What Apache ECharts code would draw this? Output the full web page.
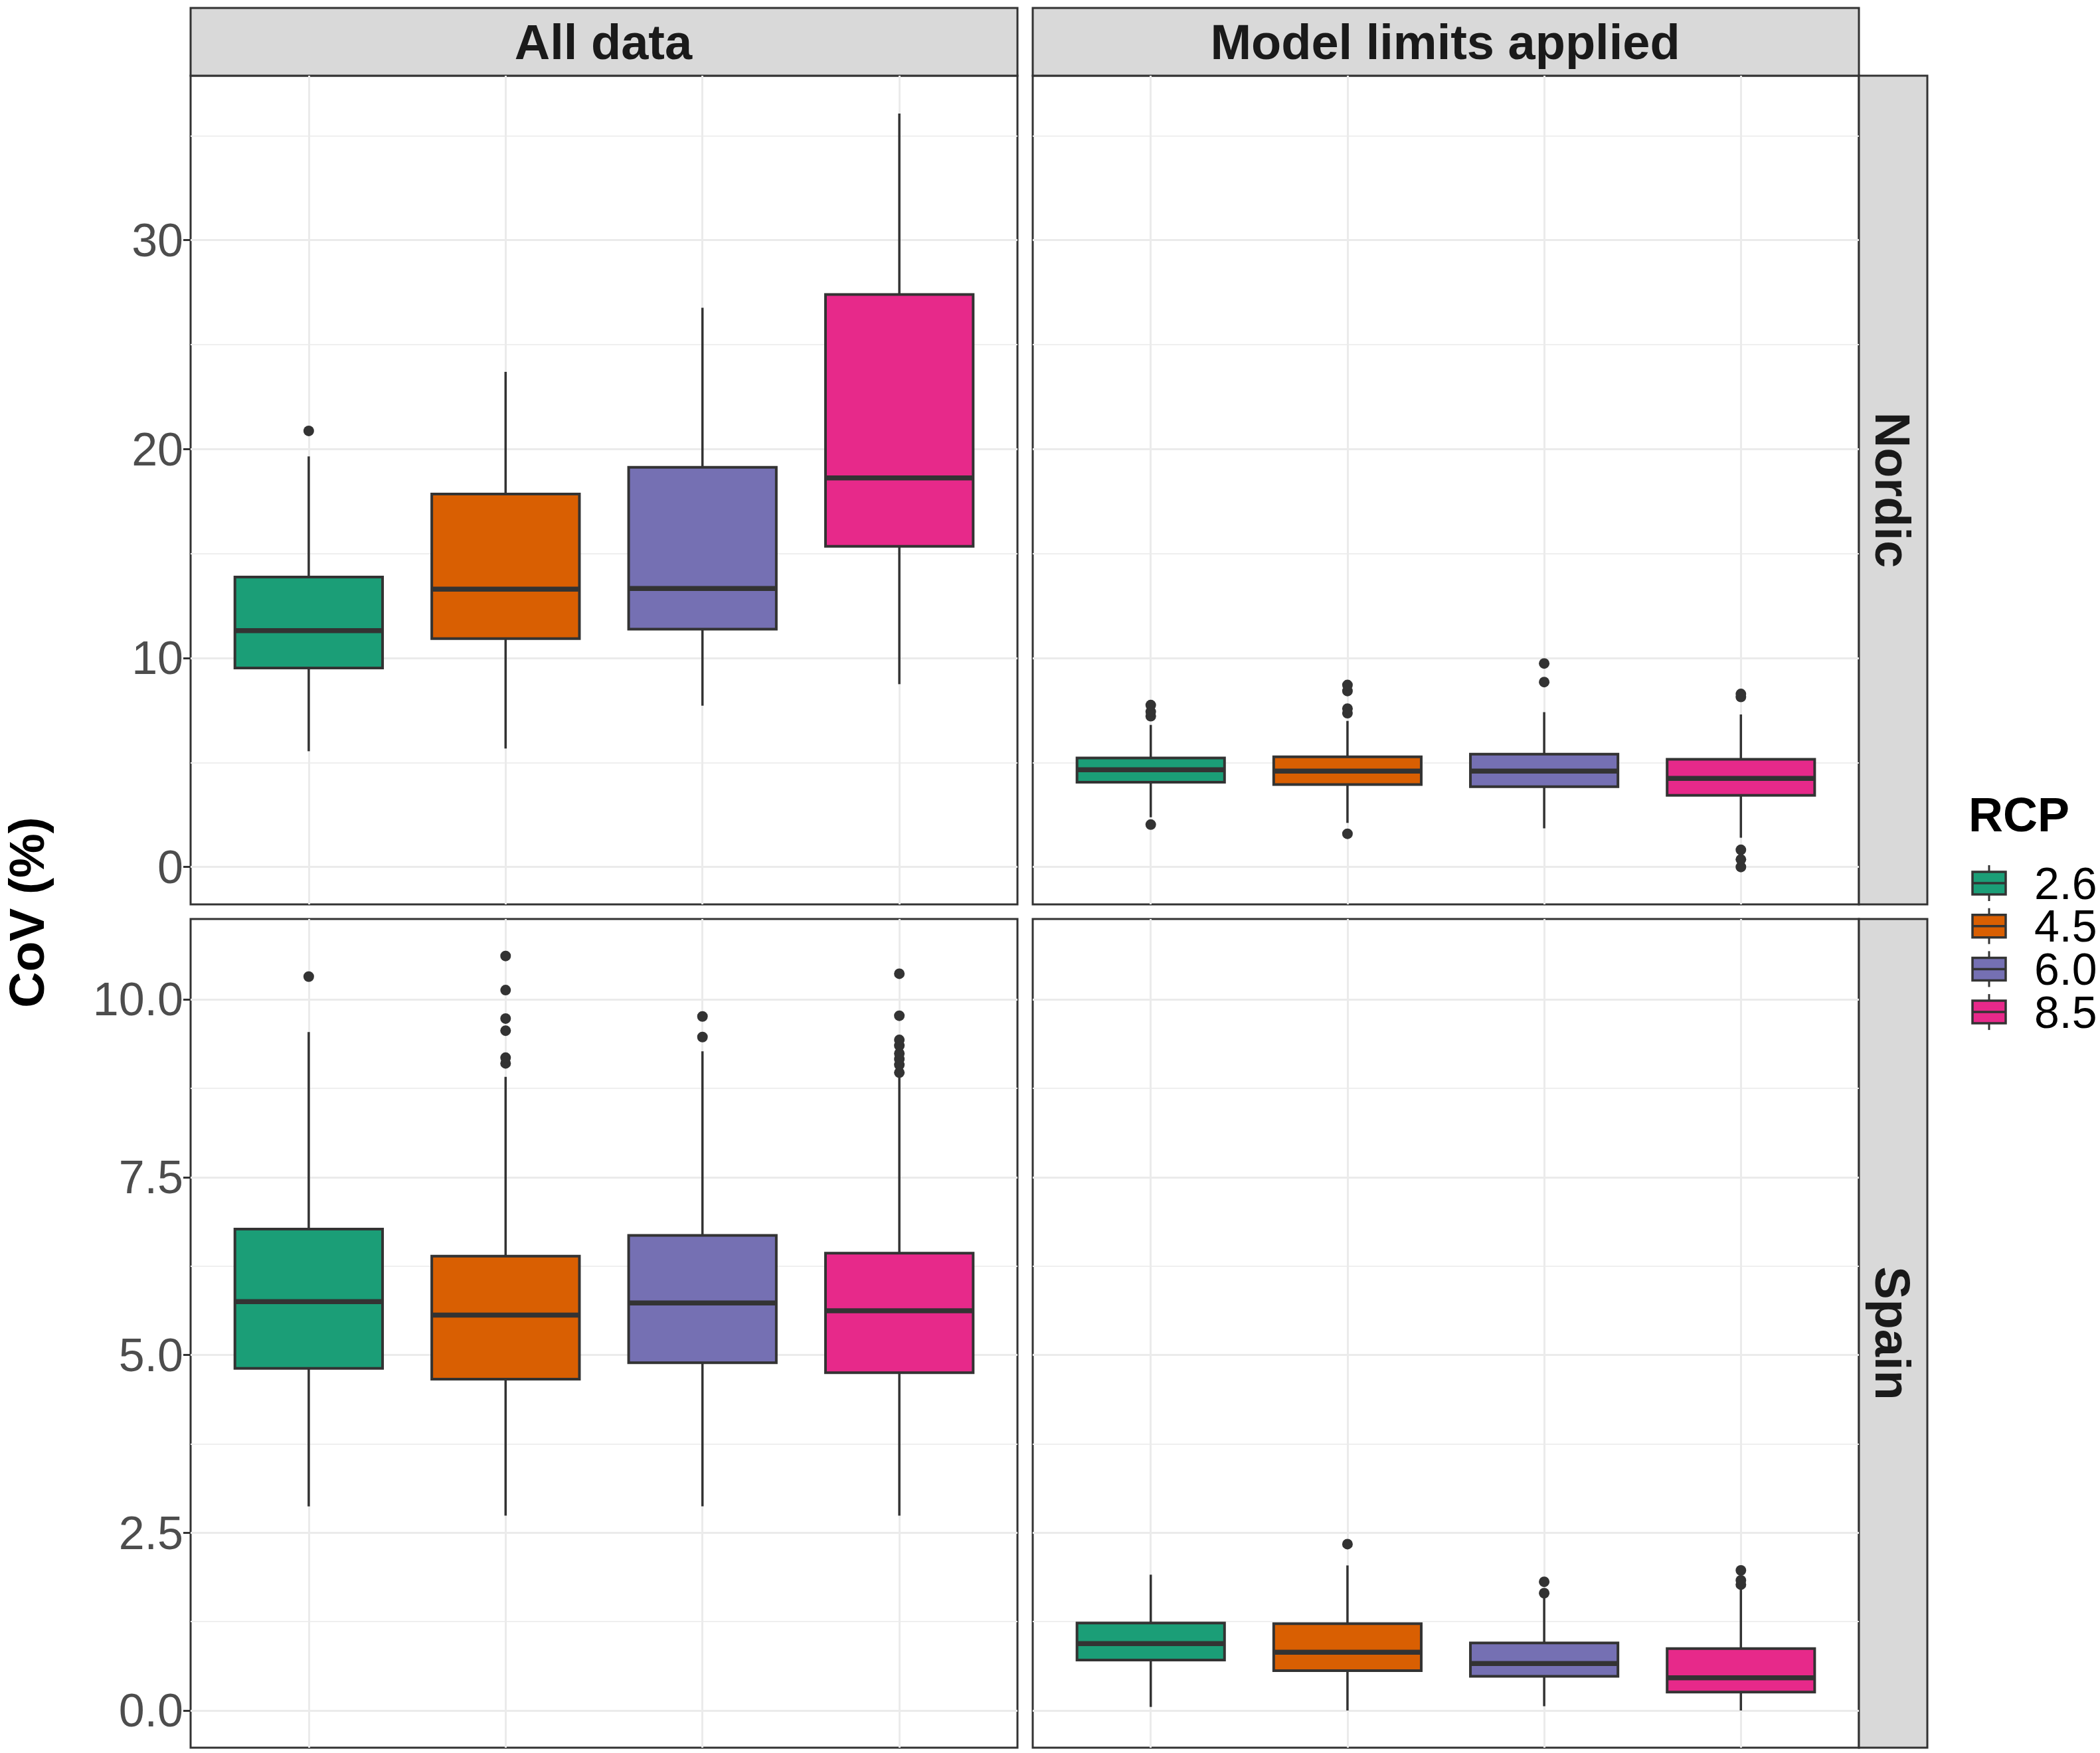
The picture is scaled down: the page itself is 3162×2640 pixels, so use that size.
<!DOCTYPE html>
<html>
<head>
<meta charset="utf-8">
<script src="https://cdn.jsdelivr.net/npm/echarts@6/dist/echarts.min.js"></script>
<style>
  html, body { margin: 0; padding: 0; background: #fff; }
  #main { width: 3162px; height: 2640px; }
</style>
</head>
<body>
<div id="main"></div>
<script>
var rcpLabels = ['2.6', '4.5', '6.0', '8.5'];
var rcpColors = ['#1b9e77', '#d95f02', '#7570b3', '#e7298a'];
var rcpPositions = [1, 2, 3, 4];

// low whisker, q1, median, q3, high whisker
var nordicAllBoxes = [
    [5.54, 9.52, 11.31, 13.88, 19.65],
    [5.67, 10.93, 13.3, 17.85, 23.7],
    [7.72, 11.38, 13.33, 19.13, 26.76],
    [8.75, 15.35, 18.62, 27.4, 36.06]
];
var nordicAllOutliers = [[20.87], [], [], []];

var nordicLimitBoxes = [
    [2.38, 4.06, 4.65, 5.22, 6.8],
    [2.11, 3.95, 4.59, 5.27, 6.99],
    [1.85, 3.84, 4.59, 5.4, 7.41],
    [1.4, 3.43, 4.24, 5.15, 7.3]
];
var nordicLimitOutliers = [
    [2.03, 7.22, 7.43, 7.75],
    [1.59, 7.36, 7.58, 8.42, 8.71],
    [8.85, 9.74],
    [0.0, 0.36, 0.82, 8.14, 8.28]
];

var spainAllBoxes = [
    [2.87, 4.81, 5.75, 6.77, 9.54],
    [2.74, 4.66, 5.56, 6.39, 8.91],
    [2.87, 4.89, 5.73, 6.68, 9.27],
    [2.74, 4.75, 5.62, 6.43, 8.9]
];
var spainAllOutliers = [
    [10.32],
    [9.1, 9.18, 9.56, 9.73, 10.13, 10.61],
    [9.47, 9.76],
    [8.97, 9.08, 9.16, 9.24, 9.35, 9.43, 9.77, 10.36]
];

var spainLimitBoxes = [
    [0.05, 0.71, 0.94, 1.23, 1.91],
    [0.0, 0.56, 0.82, 1.22, 2.04],
    [0.06, 0.48, 0.66, 0.95, 1.58],
    [0.0, 0.26, 0.46, 0.87, 1.71]
];
var spainLimitOutliers = [
    [],
    [2.34],
    [1.65, 1.81],
    [1.77, 1.83, 1.97]
];

var nordicTicks = [0, 10, 20, 30];
var nordicMinor = [5, 15, 25, 35];
var spainTicks = [0, 2.5, 5, 7.5, 10];
var spainMinor = [1.25, 3.75, 6.25, 8.75];

var columnTitles = ['All data', 'Model limits applied'];
var rowTitles = ['Nordic', 'Spain'];

var FONT = '"Liberation Sans", Arial, sans-serif';
var DARK = '#333333';
var GRID = '#ebebeb';
var STRIP = '#d9d9d9';

var colX = [[287, 1532], [1555, 2799]];
var rowY = [[114, 1362], [1384, 2632]];
var rowRange = [[-1.79, 37.87], [-0.523, 11.13]];
var rowTicks = [nordicTicks, spainTicks];
var rowMinor = [nordicMinor, spainMinor];

var panels = [
    { col: 0, row: 0, boxes: nordicAllBoxes, outliers: nordicAllOutliers },
    { col: 1, row: 0, boxes: nordicLimitBoxes, outliers: nordicLimitOutliers },
    { col: 0, row: 1, boxes: spainAllBoxes, outliers: spainAllOutliers },
    { col: 1, row: 1, boxes: spainLimitBoxes, outliers: spainLimitOutliers }
];

function renderBox(params, api) {
    var x = api.value(0);
    var low = api.coord([x, api.value(1)]);
    var q1 = api.coord([x, api.value(2)]);
    var med = api.coord([x, api.value(3)]);
    var q3 = api.coord([x, api.value(4)]);
    var high = api.coord([x, api.value(5)]);
    var w = api.size([0.75, 0])[0];
    var color = rcpColors[api.value(6)];
    var line = { stroke: DARK, lineWidth: 3.5 };
    return {
        type: 'group',
        children: [
            { type: 'line', shape: { x1: low[0], y1: low[1], x2: q1[0], y2: q1[1] }, style: line },
            { type: 'line', shape: { x1: q3[0], y1: q3[1], x2: high[0], y2: high[1] }, style: line },
            {
                type: 'rect',
                shape: { x: q1[0] - w / 2, y: q3[1], width: w, height: q1[1] - q3[1] },
                style: { fill: color, stroke: DARK, lineWidth: 4 }
            },
            {
                type: 'line',
                shape: { x1: med[0] - w / 2, y1: med[1], x2: med[0] + w / 2, y2: med[1] },
                style: { stroke: DARK, lineWidth: 7.5 }
            }
        ]
    };
}

var grids = [], xAxes = [], yAxes = [], series = [], graphics = [];

panels.forEach(function (p, i) {
    var ticks = rowTicks[p.row];
    var left = p.col === 0;
    grids.push({
        left: colX[p.col][0],
        width: colX[p.col][1] - colX[p.col][0],
        top: rowY[p.row][0],
        height: rowY[p.row][1] - rowY[p.row][0],
        show: true,
        backgroundColor: '#fff',
        borderColor: DARK,
        borderWidth: 3,
        containLabel: false
    });
    xAxes.push({
        type: 'value',
        gridIndex: i,
        min: 0.4,
        max: 4.6,
        axisLine: { show: false },
        axisLabel: { show: false },
        axisTick: { show: false, customValues: rcpPositions },
        splitLine: { show: true, lineStyle: { color: GRID, width: 3 } }
    });
    // main axis: major grid lines, ticks and labels
    yAxes.push({
        type: 'value',
        gridIndex: i,
        min: rowRange[p.row][0],
        max: rowRange[p.row][1],
        axisLine: { show: false },
        axisTick: { show: left, length: 11, customValues: ticks, lineStyle: { color: DARK, width: 3 } },
        axisLabel: {
            show: left,
            customValues: ticks,
            margin: 11,
            formatter: function (v) { return '{tick|' + (p.row === 1 ? v.toFixed(1) : String(v)) + '}'; },
            rich: {
                tick: {
                    color: '#4d4d4d',
                    fontSize: 70,
                    fontFamily: FONT,
                    padding: [10, 0, 0, 0]
                }
            }
        },
        splitLine: { show: true, lineStyle: { color: GRID, width: 3 } }
    });
    // second axis on the same scale, only for the minor grid lines
    yAxes.push({
        type: 'value',
        gridIndex: i,
        min: rowRange[p.row][0],
        max: rowRange[p.row][1],
        axisLine: { show: false },
        axisTick: { show: false, customValues: rowMinor[p.row] },
        axisLabel: { show: false },
        splitLine: { show: true, lineStyle: { color: '#efefef', width: 2 } }
    });

    var boxData = p.boxes.map(function (b, k) {
        return [rcpPositions[k], b[0], b[1], b[2], b[3], b[4], k];
    });
    series.push({
        type: 'custom',
        xAxisIndex: i,
        yAxisIndex: i * 2,
        renderItem: renderBox,
        encode: { x: 0, y: [1, 2, 3, 4, 5] },
        data: boxData,
        clip: false,
        z: 3
    });

    var pts = [];
    p.outliers.forEach(function (list, k) {
        list.forEach(function (v) { pts.push([rcpPositions[k], v]); });
    });
    series.push({
        type: 'scatter',
        xAxisIndex: i,
        yAxisIndex: i * 2,
        symbolSize: 16,
        itemStyle: { color: DARK, opacity: 1 },
        data: pts,
        z: 4
    });
});

// strips
columnTitles.forEach(function (t, c) {
    graphics.push({
        type: 'rect',
        shape: { x: colX[c][0], y: 12, width: colX[c][1] - colX[c][0], height: 102 },
        style: { fill: STRIP, stroke: DARK, lineWidth: 3 }
    });
    graphics.push({
        type: 'text',
        x: (colX[c][0] + colX[c][1]) / 2 - 1,
        y: 69,
        style: {
            text: t, fill: '#1a1a1a', font: 'bold 74px ' + FONT,
            textAlign: 'center', textVerticalAlign: 'middle'
        }
    });
});
rowTitles.forEach(function (t, r) {
    graphics.push({
        type: 'rect',
        shape: { x: 2799, y: rowY[r][0], width: 103, height: rowY[r][1] - rowY[r][0] },
        style: { fill: STRIP, stroke: DARK, lineWidth: 3 }
    });
    graphics.push({
        type: 'text',
        x: 2844,
        y: (rowY[r][0] + rowY[r][1]) / 2,
        rotation: -Math.PI / 2,
        style: {
            text: t, fill: '#1a1a1a', font: 'bold 74px ' + FONT,
            textAlign: 'center', textVerticalAlign: 'middle'
        }
    });
});

// y axis title
graphics.push({
    type: 'text',
    x: 45,
    y: 1374,
    rotation: Math.PI / 2,
    style: {
        text: 'CoV (%)', fill: '#000', font: 'bold 75px ' + FONT,
        textAlign: 'center', textVerticalAlign: 'middle'
    }
});

// legend
graphics.push({
    type: 'text',
    x: 2964,
    y: 1232,
    style: {
        text: 'RCP', fill: '#000', font: 'bold 72px ' + FONT,
        textAlign: 'left', textVerticalAlign: 'middle'
    }
});
rcpLabels.forEach(function (label, k) {
    var cy = 1330 + k * 64.7;
    graphics.push({
        type: 'line',
        shape: { x1: 2995, y1: cy - 27, x2: 2995, y2: cy + 27 },
        style: { stroke: DARK, lineWidth: 3 }
    });
    graphics.push({
        type: 'rect',
        shape: { x: 2970, y: cy - 17, width: 50, height: 34 },
        style: { fill: rcpColors[k], stroke: DARK, lineWidth: 3.5 }
    });
    graphics.push({
        type: 'line',
        shape: { x1: 2970, y1: cy, x2: 3020, y2: cy },
        style: { stroke: DARK, lineWidth: 3.5 }
    });
    graphics.push({
        type: 'text',
        x: 3063,
        y: cy + 5,
        style: {
            text: label, fill: '#000', font: '68px ' + FONT,
            textAlign: 'left', textVerticalAlign: 'middle'
        }
    });
});

var chart = echarts.init(document.getElementById('main'));
chart.setOption({
    animation: false,
    backgroundColor: '#fff',
    grid: grids,
    xAxis: xAxes,
    yAxis: yAxes,
    series: series,
    graphic: { elements: graphics }
});
</script>
</body>
</html>
